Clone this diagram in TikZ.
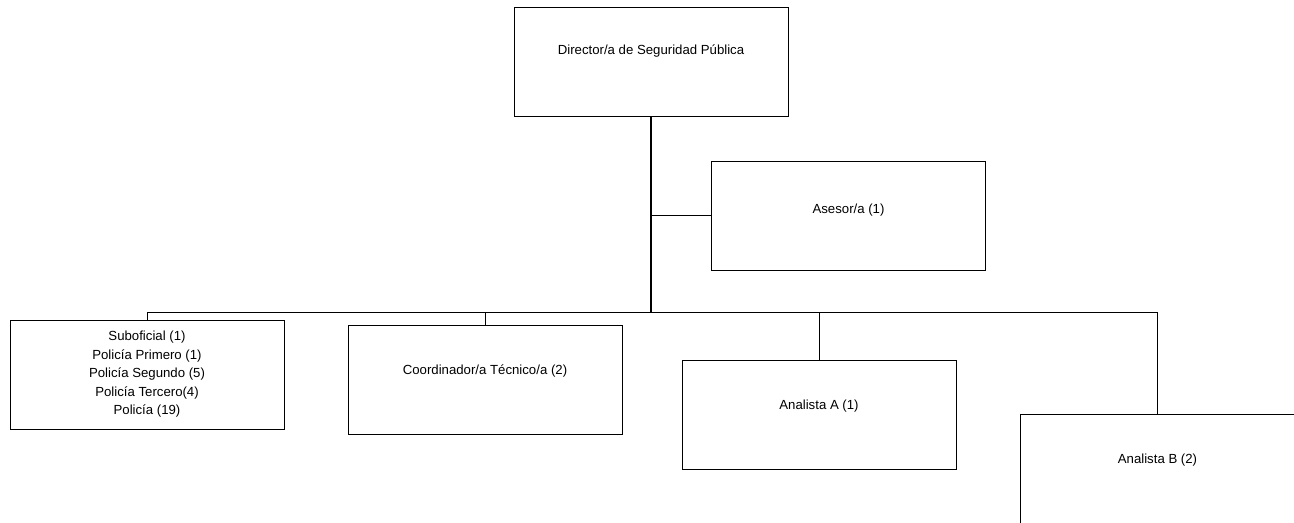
\documentclass[tikz,border=0pt]{standalone}
\usepackage{fontspec}
\setmainfont{Liberation Sans}
\usetikzlibrary{positioning,calc}

\begin{document}
\begin{tikzpicture}[
        x=0.75pt, y=-0.75pt,
        font=\fontsize{9.9}{13.9}\selectfont,
        post/.style={rectangle, draw, fill=white, minimum width=205.5pt, minimum height=81.75pt, text depth=15pt, line width=0.75pt},
        staff/.style={rectangle, draw, fill=white, minimum width=205.5pt, minimum height=81.75pt, align=center, line width=0.75pt},
        link/.style={draw, line width=0.75pt},
        trunk/.style={draw, line width=1.3pt}
    ]
    \clip (0,0) rectangle (1294,522);

    % Head
    \node [post, text depth=18pt] (director) at (651,61.5) {Director/a de Seguridad Pública};

    % Advisor
    \node [post, text depth=9.5pt] (asesor) at (848.5,215.5) {Asesor/a (1)};

    % Lower level
    \node [staff] (policia) at (147,374.5) {Suboficial (1)\\Policía Primero (1)\\Policía Segundo (5)\\Policía Tercero(4)\\Policía (19)};
    \node [post] (coordinador) at (485,379.5) {Coordinador/a Técnico/a (2)};
    \node [post] (analistaA) at (819,414.5) {Analista A (1)};
    \node [post] (analistaB) at (1157.5,468.5) {Analista B (2)};

    % Branch points
    \coordinate (bus) at (director.south |- 0,312);
    \coordinate (side) at (director.south |- asesor.west);

    % Main line
    \path [trunk] (director.south) -- (bus);
    \path [link] (side) -- (asesor.west);

    % Lower links
    \path [link] (policia.north) |- (bus);
    \path [link] (coordinador.north) |- (bus);
    \path [link] (analistaA.north) |- (bus);
    \path [link] (analistaB.north) |- (bus);

\end{tikzpicture}
\end{document}
